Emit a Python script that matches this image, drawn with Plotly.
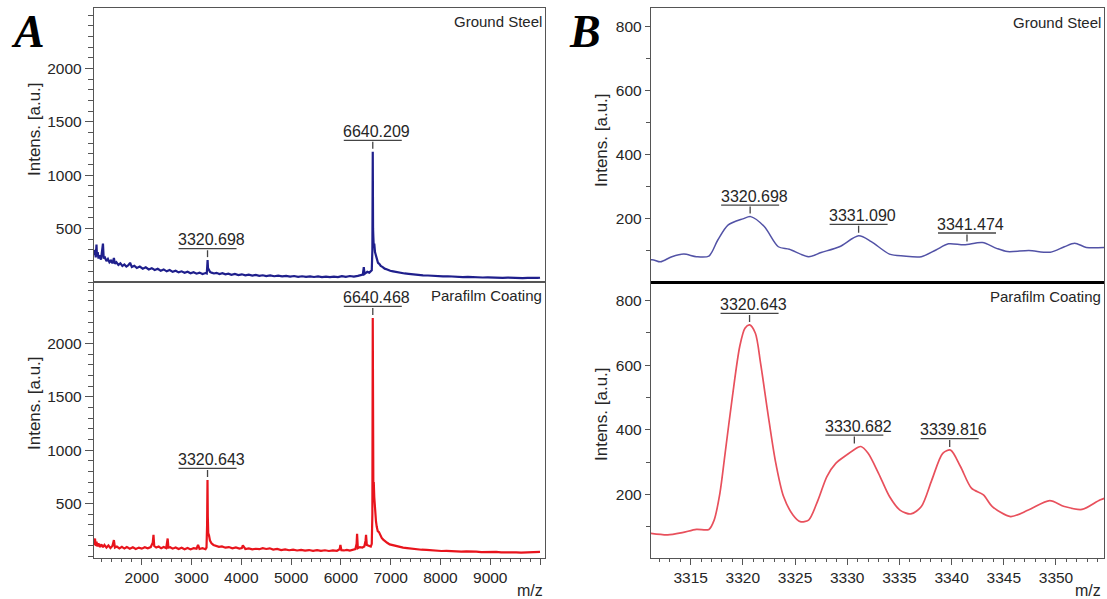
import plotly.graph_objects as go

# ---------------- data ----------------
# Panel A, Ground Steel (blue)
steel_A_mz = [1040, 1060, 1075, 1090, 1100, 1115, 1130, 1150, 1180, 1205,
              1220, 1235, 1260, 1290, 1320, 1350, 1380, 1410, 1440, 1460,
              1490, 1530, 1570, 1610, 1650, 1690, 1730, 1765, 1800, 1850,
              1900, 1960, 2020, 2080, 2140, 2200, 2260, 2320, 2380, 2440,
              2500, 2560, 2620, 2680, 2740, 2800, 2860, 2920, 2980, 3040,
              3100, 3160, 3220, 3280, 3305, 3315, 3322, 3330, 3345, 3370,
              3400, 3450, 3500, 3560, 3620, 3680, 3740, 3800, 3870, 3940,
              4010, 4080, 4150, 4220, 4290, 4360, 4430, 4500, 4580, 4660,
              4740, 4820, 4900, 4980, 5060, 5140, 5220, 5300, 5380, 5460,
              5540, 5620, 5700, 5780, 5860, 5940, 6020, 6100, 6180, 6260,
              6340, 6400, 6440, 6460, 6475, 6490, 6530, 6570, 6600, 6620,
              6632, 6640, 6646, 6652, 6660, 6670, 6685, 6700, 6720, 6745,
              6770, 6800, 6840, 6880, 6930, 6990, 7050, 7120, 7200, 7280,
              7360, 7450, 7550, 7650, 7750, 7850, 7950, 8050, 8150, 8250,
              8350, 8450, 8550, 8650, 8750, 8850, 8950, 9050, 9150, 9250,
              9350, 9450, 9550, 9650, 9750, 9850, 9950, 10000]
steel_A_int = [250, 300, 230, 350, 240, 280, 220, 250, 210, 300,
               360, 220, 230, 195, 215, 185, 200, 175, 225, 170,
               185, 160, 175, 150, 165, 145, 158, 180, 140, 152,
               132, 145, 125, 138, 118, 130, 112, 124, 106, 118,
               100, 112, 95, 106, 90, 100, 86, 96, 82, 92,
               78, 88, 75, 84, 80, 150, 205, 130, 110, 95,
               88, 80, 86, 75, 82, 72, 78, 68, 75, 65,
               72, 62, 68, 60, 66, 57, 63, 55, 61, 54,
               59, 52, 57, 50, 56, 49, 54, 48, 53, 47,
               52, 46, 51, 45, 50, 46, 55, 48, 56, 50,
               58, 62, 70, 140, 75, 80, 95, 88, 100, 110,
               300, 1220, 500, 420, 330, 360, 280, 250, 210, 180,
               170, 150, 140, 125, 118, 105, 100, 92, 86, 80,
               76, 70, 68, 63, 61, 57, 56, 52, 54, 49,
               51, 46, 48, 44, 46, 42, 44, 40, 43, 39,
               41, 37, 40, 36, 39, 35, 38, 40]

# Panel A, Parafilm Coating (red)
para_A_mz = [1040, 1060, 1075, 1090, 1110, 1130, 1160, 1190, 1220, 1250,
             1290, 1330, 1370, 1410, 1440, 1460, 1500, 1550, 1600, 1650,
             1700, 1760, 1820, 1880, 1940, 2000, 2060, 2120, 2180, 2220,
             2235, 2250, 2290, 2340, 2390, 2440, 2490, 2520, 2535, 2570,
             2620, 2680, 2740, 2800, 2860, 2920, 2980, 3040, 3100, 3130,
             3160, 3220, 3280, 3300, 3312, 3320, 3326, 3335, 3350, 3370,
             3400, 3440, 3490, 3550, 3610, 3680, 3750, 3820, 3890, 3960,
             4010, 4030, 4080, 4150, 4220, 4290, 4360, 4430, 4500, 4570,
             4640, 4720, 4800, 4880, 4960, 5040, 5120, 5200, 5280, 5360,
             5440, 5520, 5600, 5680, 5760, 5840, 5920, 5975, 5990, 6010,
             6060, 6120, 6180, 6240, 6290, 6315, 6325, 6340, 6380, 6430,
             6470, 6495, 6505, 6520, 6560, 6600, 6620, 6632, 6640, 6646,
             6652, 6660, 6670, 6680, 6690, 6705, 6720, 6740, 6765, 6790,
             6820, 6850, 6890, 6930, 6980, 7040, 7100, 7170, 7250, 7330,
             7420, 7520, 7620, 7720, 7820, 7920, 8020, 8120, 8220, 8320,
             8420, 8520, 8620, 8720, 8820, 8920, 9020, 9120, 9220, 9320,
             9420, 9520, 9620, 9720, 9820, 9920, 10000]
para_A_int = [110, 170, 100, 140, 95, 125, 90, 115, 88, 110,
              85, 105, 80, 100, 155, 85, 95, 78, 92, 76,
              90, 74, 88, 72, 85, 75, 88, 78, 90, 130,
              205, 100, 85, 95, 78, 90, 80, 170, 85, 88,
              75, 86, 72, 84, 70, 82, 68, 80, 75, 110,
              72, 80, 70, 85, 300, 720, 380, 220, 200, 150,
              125, 110, 100, 92, 96, 84, 90, 78, 86, 75,
              80, 105, 72, 78, 68, 74, 70, 80, 72, 78,
              66, 72, 62, 68, 60, 66, 58, 64, 56, 62,
              55, 61, 54, 60, 53, 59, 55, 70, 110, 60,
              58, 64, 57, 65, 70, 120, 215, 80, 90, 85,
              95, 150, 205, 110, 100, 95, 120, 400, 2240, 850,
              620, 700, 560, 480, 360, 330, 280, 240, 230, 200,
              175, 160, 140, 130, 115, 108, 98, 92, 85, 80,
              74, 70, 65, 63, 58, 57, 53, 55, 50, 52,
              47, 50, 45, 47, 43, 45, 41, 44, 40, 42,
              38, 41, 37, 40, 36, 39, 45]

# Panel B, Ground Steel (blue, zoom)
steel_B_mz = [3311.1, 3311.45, 3312.1, 3313.2, 3314.35, 3315.55, 3316.75, 3317.6, 3318.6, 3320.0,
              3320.75, 3322.05, 3323.4, 3324.45, 3326.3, 3327.5, 3329.25, 3331.1, 3332.3, 3334.05,
              3335.4, 3337.1, 3338.5, 3339.7, 3341.2, 3342.95, 3344.3, 3345.35, 3347.4, 3349.45,
              3350.8, 3351.8, 3352.9, 3354.7]
steel_B_int = [72, 72, 66, 82, 90, 82, 84, 134, 181, 200,
               207, 176, 113, 105, 82, 95, 113, 147, 129, 90,
               84, 82, 103, 122, 119, 126, 108, 98, 101, 96,
               113, 124, 111, 111]

# Panel B, Parafilm Coating (red, zoom)
para_B_mz = [3311.1, 3312.8, 3314.2, 3315.55, 3316.75, 3317.25, 3317.8, 3318.3, 3319.0, 3319.7,
             3320.2, 3320.65, 3321.2, 3321.7, 3322.4, 3323.1, 3323.9, 3324.8, 3325.5, 3326.3,
             3327.2, 3328.05, 3328.9, 3329.95, 3331.0, 3331.3, 3332.0, 3333.0, 3334.05, 3335.05,
             3336.1, 3337.1, 3338.1, 3339.15, 3339.9, 3340.85, 3341.9, 3343.05, 3343.9, 3345.65,
             3347.35, 3349.4, 3350.8, 3352.5, 3354.2, 3354.9]
para_B_int = [79, 74, 81, 91, 91, 120, 203, 327, 503, 658,
              715, 725, 699, 606, 451, 306, 193, 136, 115, 120,
              182, 255, 296, 322, 345, 348, 327, 265, 193, 151,
              139, 162, 244, 327, 337, 286, 219, 198, 162, 131,
              151, 180, 162, 153, 182, 190]

# Labelled peaks (m/z, apex intensity)
steel_A_peak_mz = [3320.698, 6640.209]
steel_A_peak_int = [205, 1220]
para_A_peak_mz = [3320.643, 6640.468]
para_A_peak_int = [720, 2240]
steel_B_peak_mz = [3320.698, 3331.090, 3341.474]
steel_B_peak_int = [207, 147, 120]
para_B_peak_mz = [3320.643, 3330.682, 3339.816]
para_B_peak_int = [725, 348, 337]

# Tick labels
A_xticks = [2000, 3000, 4000, 5000, 6000, 7000, 8000, 9000, 10000]
A_xticktext = ["2000", "3000", "4000", "5000", "6000", "7000", "8000", "9000", ""]
B_xticks = [3315, 3320, 3325, 3330, 3335, 3340, 3345, 3350]
A_yticks = [500, 1000, 1500, 2000]
B_yticks = [200, 400, 600, 800]

# ---------------- layout geometry ----------------
W, H = 1107, 599
def px_x(p):
    return p / W
def px_y(p):
    return 1 - p / H

A_dom = [px_x(94), px_x(545)]
B_dom = [px_x(651), px_x(1104)]
top_dom = [px_y(282), px_y(8.3)]
bot_dom = [px_y(557.5), px_y(282)]

FONT = "Liberation Sans, Arial, sans-serif"
TXT = "#262626"
FRAME = "#555555"

fig = go.Figure()

fig.add_trace(go.Scatter(x=steel_A_mz, y=steel_A_int, xaxis="x", yaxis="y", mode="lines",
                         line=dict(color="#1f1f8c", width=2.2), showlegend=False))
fig.add_trace(go.Scatter(x=para_A_mz, y=para_A_int, xaxis="x2", yaxis="y2", mode="lines",
                         line=dict(color="#e8141c", width=2.2), showlegend=False))
fig.add_trace(go.Scatter(x=steel_B_mz, y=steel_B_int, xaxis="x3", yaxis="y3", mode="lines",
                         line=dict(color="#5252a6", width=1.5, shape="spline", smoothing=0.8),
                         showlegend=False))
fig.add_trace(go.Scatter(x=para_B_mz, y=para_B_int, xaxis="x4", yaxis="y4", mode="lines",
                         line=dict(color="#e8505c", width=1.7, shape="spline", smoothing=0.8),
                         showlegend=False))


def xaxis(dom, rng, anchor, show, tickvals=None, ticktext=None, minor_dtick=None):
    d = dict(domain=dom, range=rng, anchor=anchor, showgrid=False, zeroline=False,
             showline=True, mirror=True, linecolor=FRAME, linewidth=1.4)
    if show:
        d.update(tickmode="array", tickvals=tickvals,
                 ticktext=ticktext if ticktext else [str(v) for v in tickvals],
                 ticks="outside", ticklen=6, tickwidth=1.2, tickcolor=FRAME,
                 tickfont=dict(family=FONT, size=15.5, color=TXT),
                 minor=dict(tickmode="linear", tick0=0, dtick=minor_dtick, ticks="outside",
                            ticklen=3.5, tickwidth=1.1, tickcolor=FRAME))
    else:
        d.update(showticklabels=False, ticks="")
    return d


def yaxis(dom, rng, anchor, tickvals, minor_dtick, ticklen, mlen):
    return dict(domain=dom, range=rng, anchor=anchor, showgrid=False, zeroline=False,
                showline=True, mirror=True, linecolor=FRAME, linewidth=1.4,
                tickmode="array", tickvals=tickvals, ticktext=[str(v) for v in tickvals],
                ticks="outside", ticklen=ticklen, tickwidth=1.2, tickcolor=FRAME,
                tickfont=dict(family=FONT, size=15.5, color=TXT),
                minor=dict(tickmode="linear", tick0=0, dtick=minor_dtick, ticks="outside",
                           ticklen=mlen, tickwidth=1.1, tickcolor=FRAME))


A_xr = [1040, 10100]
B_xr = [3311.2, 3354.6]

fig.update_layout(
    width=W, height=H,
    margin=dict(l=0, r=0, t=0, b=0),
    paper_bgcolor="white", plot_bgcolor="white",
    showlegend=False,
    xaxis=xaxis(A_dom, A_xr, "y", False),
    xaxis2=xaxis(A_dom, A_xr, "y2", True, A_xticks, A_xticktext, 200),
    xaxis3=xaxis(B_dom, B_xr, "y3", False),
    xaxis4=xaxis(B_dom, B_xr, "y4", True, B_xticks, None, 1),
    yaxis=yaxis(top_dom, [0, 2565], "x", A_yticks, 100, 8, 5),
    yaxis2=yaxis(bot_dom, [-8, 2577], "x2", A_yticks, 100, 8, 5),
    yaxis3=yaxis(top_dom, [3, 857], "x3", B_yticks, 100, 5, 4),
    yaxis4=yaxis(bot_dom, [4, 858], "x4", B_yticks, 100, 5, 4),
)

shapes = []
annotations = []

# peak labels: short tick + underline + value text
def add_peaks(xref, yref, mzs, ints):
    for mz, it in zip(mzs, ints):
        shapes.append(dict(type="line", xref=xref, yref=yref,
                           xsizemode="pixel", xanchor=mz, x0=0, x1=0,
                           ysizemode="pixel", yanchor=it, y0=3, y1=10,
                           line=dict(color="#444444", width=1.3)))
        shapes.append(dict(type="line", xref=xref, yref=yref,
                           xsizemode="pixel", xanchor=mz, x0=-29, x1=29,
                           ysizemode="pixel", yanchor=it, y0=11.5, y1=11.5,
                           line=dict(color="#444444", width=1.3)))
        annotations.append(dict(x=mz, y=it, xref=xref, yref=yref, text=f"{mz:.3f}",
                                showarrow=False, xshift=4, yshift=20.5,
                                xanchor="center", yanchor="middle",
                                font=dict(family=FONT, size=16, color=TXT)))

add_peaks("x", "y", steel_A_peak_mz, steel_A_peak_int)
add_peaks("x2", "y2", para_A_peak_mz, para_A_peak_int)
add_peaks("x3", "y3", steel_B_peak_mz, steel_B_peak_int)
add_peaks("x4", "y4", para_B_peak_mz, para_B_peak_int)

# thick divider in panel B
shapes.append(dict(type="line", xref="paper", yref="paper", x0=B_dom[0], x1=B_dom[1],
                   y0=px_y(282.5), y1=px_y(282.5), line=dict(color="black", width=3)))

# sample names
for xr, yr, name, ypx in [("x domain", "paper", "Ground Steel", 22),
                          ("x2 domain", "paper", "Parafilm Coating", 295.5),
                          ("x3 domain", "paper", "Ground Steel", 22.5),
                          ("x4 domain", "paper", "Parafilm Coating", 296)]:
    annotations.append(dict(x=1, y=px_y(ypx), xref=xr, yref=yr, text=name, showarrow=False,
                            xanchor="right", yanchor="middle", xshift=-1,
                            font=dict(family=FONT, size=15, color=TXT)))

# y-axis titles
for xpx, ypx in [(34, 129), (34, 403), (602, 140), (601, 414)]:
    annotations.append(dict(x=px_x(xpx), y=px_y(ypx), xref="paper", yref="paper",
                            text="Intens. [a.u.]", textangle=-90, showarrow=False,
                            xanchor="center", yanchor="middle",
                            font=dict(family=FONT, size=17, color=TXT)))

# x-axis titles
for xpx in [545, 1103]:
    annotations.append(dict(x=px_x(xpx), y=px_y(590), xref="paper", yref="paper",
                            text="m/z", showarrow=False, xanchor="right", yanchor="middle",
                            font=dict(family=FONT, size=16, color=TXT)))

# panel letters
for xpx, letter in [(28, "A"), (585, "B")]:
    annotations.append(dict(x=px_x(xpx), y=px_y(31), xref="paper", yref="paper",
                            text=f"<b><i>{letter}</i></b>", showarrow=False,
                            xanchor="center", yanchor="middle",
                            font=dict(family="Liberation Serif, Times New Roman, serif",
                                      size=46, color="black")))

fig.update_layout(shapes=shapes, annotations=annotations)

fig.write_html("out.html",
               config={"displayModeBar": False},
               post_script="document.body.style.margin='0px';"
                           "document.body.style.overflow='hidden';")
